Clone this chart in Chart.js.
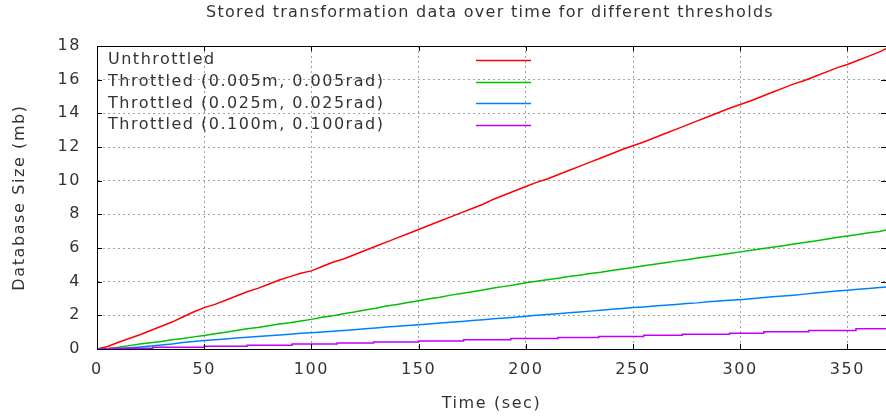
<!DOCTYPE html>
<html lang="en">
<head>
    <meta charset="UTF-8">
    <title>Stored transformation data</title>
    <script src="https://cdn.jsdelivr.net/npm/chart.js"></script>
    <style>
        body { margin: 0; background: #fff; }
        #wrap { width: 886px; height: 416px; position: relative; }
    </style>
</head>
<body>
    <div id="wrap"><canvas id="chart"></canvas></div>

    <script>
        const chartTitle = 'Stored transformation data over time for different thresholds';

        // tiempos (sec) comunes a las tres primeras series
        const times = [0, 5, 10, 15, 20, 25, 30, 35, 40, 45, 50, 55, 60, 65, 70, 75, 80, 85, 90, 95,
            100, 105, 110, 115, 120, 125, 130, 135, 140, 145, 150, 155, 160, 165, 170, 175, 180, 185, 190, 195,
            200, 205, 210, 215, 220, 225, 230, 235, 240, 245, 250, 255, 260, 265, 270, 275, 280, 285, 290, 295,
            300, 305, 310, 315, 320, 325, 330, 335, 340, 345, 350, 355, 360, 365, 368];

        const unthrottled = [0, 0.15, 0.4, 0.62, 0.85, 1.1, 1.35, 1.6, 1.9, 2.2, 2.46, 2.65, 2.9, 3.15, 3.4, 3.6, 3.85, 4.1, 4.3, 4.5,
            4.64, 4.9, 5.15, 5.35, 5.6, 5.85, 6.1, 6.35, 6.6, 6.85, 7.1, 7.35, 7.6, 7.85, 8.1, 8.35, 8.6, 8.9, 9.15, 9.4,
            9.65, 9.9, 10.1, 10.35, 10.6, 10.85, 11.1, 11.35, 11.6, 11.85, 12.07, 12.3, 12.55, 12.8, 13.05, 13.3, 13.55, 13.8, 14.05, 14.3,
            14.52, 14.75, 15.0, 15.25, 15.5, 15.75, 15.95, 16.2, 16.45, 16.7, 16.9, 17.15, 17.4, 17.65, 17.84];

        const throttled005 = [0, 0.02, 0.1, 0.2, 0.3, 0.37, 0.45, 0.55, 0.62, 0.72, 0.8, 0.9, 1.0, 1.1, 1.2, 1.28, 1.38, 1.48, 1.56, 1.66,
            1.76, 1.88, 1.98, 2.1, 2.2, 2.32, 2.42, 2.55, 2.65, 2.76, 2.87, 2.98, 3.08, 3.2, 3.3, 3.4, 3.5, 3.62, 3.72, 3.82,
            3.93, 4.02, 4.12, 4.2, 4.3, 4.38, 4.48, 4.56, 4.66, 4.75, 4.84, 4.94, 5.03, 5.12, 5.22, 5.3, 5.4, 5.5, 5.58, 5.68,
            5.77, 5.86, 5.96, 6.05, 6.14, 6.24, 6.33, 6.42, 6.52, 6.62, 6.71, 6.8, 6.9, 6.98, 7.07];

        const throttled025 = [0, 0, 0.02, 0.07, 0.12, 0.18, 0.24, 0.3, 0.38, 0.44, 0.5, 0.55, 0.6, 0.65, 0.7, 0.74, 0.78, 0.83, 0.88, 0.93,
            0.97, 1.01, 1.05, 1.1, 1.15, 1.2, 1.25, 1.3, 1.35, 1.4, 1.44, 1.49, 1.54, 1.59, 1.64, 1.69, 1.74, 1.79, 1.84, 1.89,
            1.94, 2.0, 2.05, 2.1, 2.15, 2.2, 2.25, 2.3, 2.36, 2.41, 2.46, 2.5, 2.55, 2.6, 2.65, 2.7, 2.74, 2.8, 2.85, 2.89,
            2.93, 2.98, 3.04, 3.1, 3.15, 3.2, 3.26, 3.32, 3.38, 3.44, 3.49, 3.55, 3.6, 3.65, 3.69];

        // la serie de 0.100 sube en escalones mas largos
        const times100 = [0, 6, 26, 50, 70, 91, 112, 129, 150, 171, 193, 215, 234, 255, 273, 295, 311, 332, 354, 368];
        const throttled100 = [0, 0.04, 0.1, 0.16, 0.22, 0.29, 0.35, 0.42, 0.48, 0.55, 0.62, 0.68, 0.75, 0.81, 0.87, 0.94, 1.02, 1.1, 1.2, 1.22];

        const seriesNames = ['Unthrottled', 'Throttled (0.005m, 0.005rad)', 'Throttled (0.025m, 0.025rad)', 'Throttled (0.100m, 0.100rad)'];
        const seriesColors = ['#ff0000', '#00c000', '#0080ff', '#c000ff'];
        const seriesStepped = [false, false, false, true];

        const yTicks = [0, 2, 4, 6, 8, 10, 12, 14, 16, 18];
        const xTicks = [0, 50, 100, 150, 200, 250, 300, 350];

        const FONT = "'DejaVu Sans', sans-serif";
        const TEXT = '#333333';

        function pts(xs, ys) {
            return xs.map((x, i) => ({ x, y: ys[i] }));
        }

        const seriesData = [
            pts(times, unthrottled),
            pts(times, throttled005),
            pts(times, throttled025),
            pts(times100, throttled100)
        ];

        // titulo, marco, marcas interiores y leyenda estilo gnuplot
        const gnuplotLook = {
            id: 'gnuplotLook',
            beforeDraw(chart) {
                // el texto de gnuplot sale mas espaciado
                chart.ctx.letterSpacing = '1.6px';
            },
            afterDatasetsDraw(chart) {
                const { ctx, chartArea: a, scales } = chart;
                ctx.save();
                ctx.strokeStyle = '#000';
                ctx.lineWidth = 1;
                ctx.strokeRect(Math.round(a.left) + 0.5, Math.round(a.top) + 0.5,
                    Math.round(a.right - a.left), Math.round(a.bottom - a.top));

                ctx.beginPath();
                scales.x.ticks.forEach(t => {
                    const px = Math.round(scales.x.getPixelForValue(t.value)) + 0.5;
                    ctx.moveTo(px, a.bottom); ctx.lineTo(px, a.bottom - 5);
                    ctx.moveTo(px, a.top); ctx.lineTo(px, a.top + 5);
                });
                scales.y.ticks.forEach(t => {
                    const py = Math.round(scales.y.getPixelForValue(t.value)) + 0.5;
                    ctx.moveTo(a.left, py); ctx.lineTo(a.left + 5, py);
                    ctx.moveTo(a.right, py); ctx.lineTo(a.right - 5, py);
                });
                ctx.stroke();

                // leyenda
                ctx.font = '16px ' + FONT;
                ctx.letterSpacing = '1.5px';
                ctx.textBaseline = 'middle';
                ctx.textAlign = 'left';
                chart.data.datasets.forEach((ds, i) => {
                    const y = 60 + i * 21.7;
                    ctx.fillStyle = TEXT;
                    ctx.fillText(ds.label, 108, y);
                    ctx.strokeStyle = ds.borderColor;
                    ctx.lineWidth = 1.5;
                    ctx.beginPath();
                    ctx.moveTo(476, Math.round(y) + 0.5);
                    ctx.lineTo(531, Math.round(y) + 0.5);
                    ctx.stroke();
                });

                // titulo
                ctx.font = '16px ' + FONT;
                ctx.letterSpacing = '1.3px';
                ctx.textAlign = 'left';
                ctx.fillStyle = TEXT;
                ctx.fillText(chartTitle, 206, 13);
                ctx.restore();
            }
        };

        const ctx = document.getElementById('chart').getContext('2d');
        new Chart(ctx, {
            type: 'line',
            data: {
                datasets: seriesData.map((d, i) => ({
                    label: seriesNames[i],
                    data: d,
                    borderColor: seriesColors[i],
                    borderWidth: 1.5,
                    stepped: seriesStepped[i],
                    pointRadius: 0,
                    fill: false,
                    order: 4 - i
                }))
            },
            options: {
                responsive: true,
                maintainAspectRatio: false,
                animation: false,
                layout: { padding: { top: 46, right: 0, left: 0, bottom: 0 } },
                plugins: {
                    legend: { display: false },
                    tooltip: { enabled: false },
                    title: { display: false }
                },
                scales: {
                    x: {
                        type: 'linear',
                        min: 0,
                        max: 368,
                        afterFit: s => { s.height = 67; },
                        afterBuildTicks: s => { s.ticks = xTicks.map(v => ({ value: v })); },
                        grid: { color: '#a0a0a0', lineWidth: 1, drawTicks: false },
                        border: { display: true, color: '#000', dash: [2, 3] },
                        ticks: { color: TEXT, font: { family: FONT, size: 16 }, padding: 11, maxRotation: 0 },
                        title: { display: true, text: 'Time (sec)', color: TEXT, font: { family: FONT, size: 16 }, padding: { top: 0, bottom: 3 } }
                    },
                    y: {
                        min: 0,
                        max: 18,
                        afterFit: s => { s.width = 97; },
                        afterBuildTicks: s => { s.ticks = yTicks.map(v => ({ value: v })); },
                        grid: { color: '#a0a0a0', lineWidth: 1, drawTicks: false },
                        border: { display: true, color: '#000', dash: [2, 3] },
                        ticks: { color: TEXT, font: { family: FONT, size: 16 }, padding: 16 },
                        title: { display: true, text: 'Database Size (mb)', color: TEXT, font: { family: FONT, size: 16 }, padding: { top: 10, bottom: 0 } }
                    }
                }
            },
            plugins: [gnuplotLook]
        });
    </script>
</body>
</html>
